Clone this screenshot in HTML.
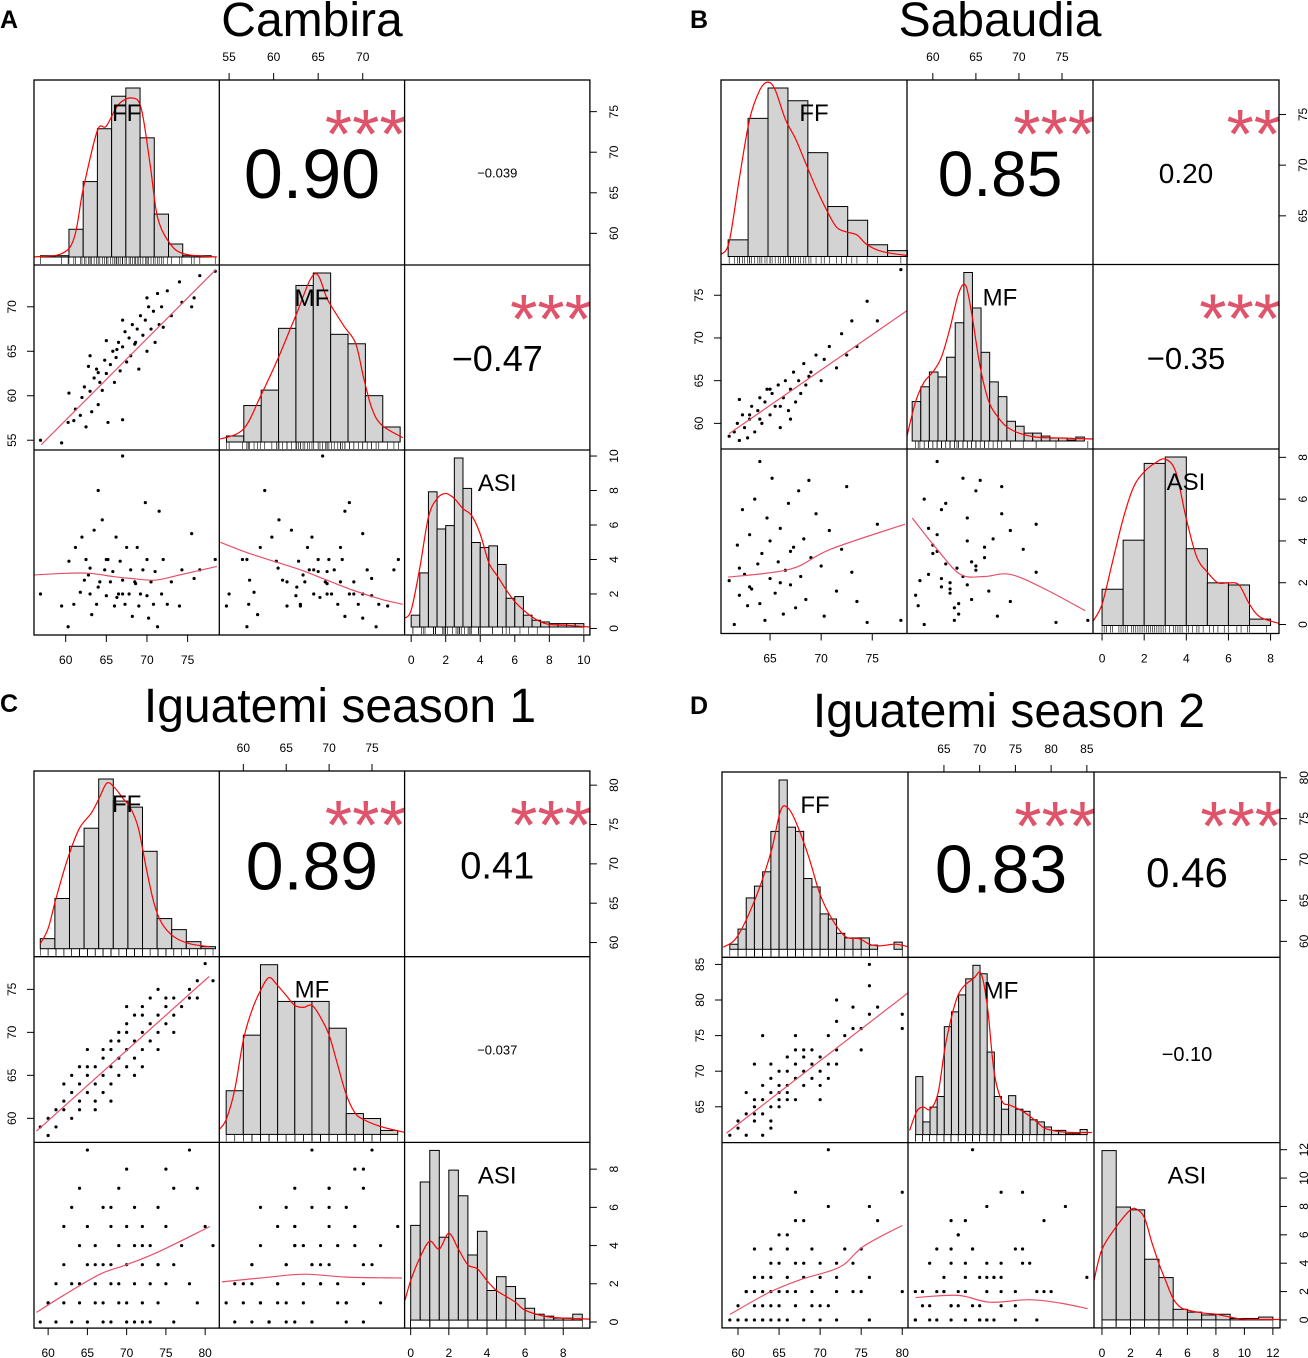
<!DOCTYPE html>
<html><head><meta charset="utf-8"><style>
html,body{margin:0;padding:0;background:#fff;}
svg{display:block;font-family:"Liberation Sans",Arial,sans-serif;}
</style></head><body>
<svg id="chart" width="1308" height="1358" viewBox="0 0 1308 1358" xmlns="http://www.w3.org/2000/svg"></svg>
<script>
// ===== Panel A data (Cambira) =====
const aObs = [[56.9,55,2],[59.5,54.7,1.3],[60.3,57,0.1],[60.4,60.3,3.9],[61,57.2,1.4],[61.2,58.5,4.7],[61.8,57.8,2.1],[62,59.8,5.3],[62.3,61,2.8],[62.5,56.5,4.0],[63,60.5,3.5],[63.2,58.2,0.8],[63.5,62,5.7],[63.8,63,1.4],[64,59,8.0],[64.2,61.5,2.7],[64.5,60.6,6.3],[64.8,64,3.4],[65,62.5,1.9],[65.2,57,4.0],[65.5,63.5,2.7],[65.8,65,3.3],[66,61.5,1.3],[66.2,64.3,5.3],[66.5,66,2.0],[66.7,62.8,3.9],[67,57.3,2.8],[67,65.5,10.0],[67.3,67.2,1.4],[67.5,63.8,4.7],[67.8,66.5,2.0],[68,64.5,3.4],[68.2,68,0.7],[68.5,65.8,2.7],[68.8,67.5,4.7],[69,63,1.3],[69.2,69,2.0],[69.5,66.8,3.4],[69.8,68.5,7.3],[70,65,4.0],[70.2,70,0.6],[70.5,67.5,2.7],[70.8,69.5,1.4],[71,66,3.3],[71.3,71.5,0.1],[71.5,68,6.8],[71.8,70,2.0],[72,67.7,4.0],[72.5,71.8,1.4],[73,69,2.7],[74,72.8,1.3],[74.3,70.5,3.4],[75.5,70,5.5],[75.8,71,2.9],[76.5,73.5,3.4],[78.4,74,4.0],[62.8,63.3,3.1],[64,62.6,2.4],[66.3,65.2,1.8],[68.6,66,2.6],[65,66.2,4.0],[70,71,1.9],[67,68.5,2.0],[63,64.5,2.0]];
const aFFCounts = [3,3,64,174,296,371,390,275,99,30,3,3];
const aFFDens = [[56.1,0],[60.5,22],[62.2,162],[63.9,292],[65.0,302],[66.5,352],[68.2,367],[69.3,342],[70.4,212],[71.3,92],[72.8,32],[74.6,7],[78.6,0]];
const aMFCounts = [14,85,121,265,365,394,251,229,108,35];
const aMFDens = [[54.0,7],[56.6,30],[58.6,110],[60.6,200],[62.4,290],[64.6,392],[66.1,330],[67.9,270],[69.2,230],[70.1,150],[71.0,80],[72.1,40],[74.5,10]];
const aASICounts = [0.7,3.2,8.0,5.8,6.0,10.0,8.2,5.0,4.7,4.8,3.7,1.7,1.8,0.7,0.4,0.3,0.2,0.2,0.2,0.2];
const aASIDens = [[-0.4,0.5],[0,1.0],[0.5,3.5],[1,6.5],[1.5,7.6],[2,7.9],[2.5,7.6],[3,7.0],[3.5,6.6],[4,5.5],[4.5,3.8],[5,3.0],[5.5,2.2],[6,1.5],[6.5,1.0],[7,0.6],[7.5,0.3],[8,0.15],[9,0.1],[10.3,0]];
const aLoessFFMF = [[57,54.5],[78.5,74.2]];
const aLoessFFASI = [[56.1,3.1],[60,3.2],[63,3.2],[66,3.0],[68,2.9],[71,2.8],[74,3.1],[78.6,3.6]];
const aLoessMFASI = [[54,5.0],[57,4.4],[60,3.9],[63,3.4],[66,2.8],[69,2.2],[72,1.7],[74.5,1.4]];
const aCorr = ["0.90","\u22120.039","\u22120.47"];

// ===== Panel B data (Sabaudia) =====
const bObs = [[61,58.5,2.1],[61.5,59,0],[61.8,60,3.8],[62,58,1.4],[62.3,61,5.5],[62.5,59.5,2.4],[62.8,58.3,0.9],[63,60.5,4.3],[63.2,62,1.7],[63.5,59,6.0],[63.8,61.5,2.9],[64,63,1.0],[64.2,60,3.4],[64.5,62.5,0.2],[64.7,64,5.1],[65,61,2.2],[65.2,63.5,7.0],[65.5,62,1.5],[65.8,64.5,3.0],[66,59.5,4.6],[66.3,63,0.5],[66.5,65,2.6],[66.8,61.5,5.8],[67,64,1.9],[67.3,66,3.7],[67.5,62.5,0.8],[67.8,65,6.4],[68,63.5,2.3],[68.3,67,4.1],[68.5,64.5,1.2],[69,66,3.2],[69.5,68,5.3],[70,65,2.8],[70.3,67.5,0.4],[70.8,69,4.5],[71.5,66.5,1.6],[72,70.5,3.6],[72.5,68,6.6],[73,72,2.5],[73.5,69,1.1],[74.5,74.3,0.1],[75.5,72,4.8],[77.8,78,0.2],[64,60.5,7.8],[66,62,2.0],[68.8,65.5,6.9],[63,61,1.8],[65,64,4.0],[67,60.5,3.5],[62,62.8,2.7]];
const bFFCounts = [17,141,172,159,106,51,37,12,6];
const bFFDens = [[60.2,2],[61,15],[62,80],[63,140],[64,170],[64.8,178],[65.5,170],[66.5,140],[67.5,120],[68.5,95],[69.5,70],[70.5,48],[71.5,30],[72.5,25],[73.5,22],[74.5,12],[76,5],[78.4,1]];
const bMFCounts = [40,55,70,65,85,120,171,135,90,60,45,20,15,8,8,5,3,3,1,4];
const bMFDens = [[57,5],[58,40],[59,60],[60,70],[61,85],[62,115],[63,150],[63.8,158],[64.5,130],[65.5,75],[66.5,40],[67.5,25],[68.5,15],[70,8],[72,4],[75,3],[78.6,2]];
const bASICounts = [1.7,4.0,7.6,7.9,3.6,2.0,1.9,0.3];
const bASIDens = [[-0.43,0.2],[0,1.0],[0.5,3],[1,5],[1.5,6.5],[2,7.2],[2.5,7.6],[3,7.8],[3.5,7.2],[4,5.0],[4.5,3.2],[5,2.5],[5.5,2.0],[6,2.0],[6.5,1.9],[7,1.0],[7.5,0.4],[8.4,0.1]];
const bLoessFFMF = [[61,58.8],[78.4,73.2]];
const bLoessFFASI = [[60.9,2.27],[67,2.65],[70.9,3.6],[78.2,4.8]];
const bLoessMFASI = [[57.6,5.1],[60.5,3.6],[63.2,2.4],[66,2.3],[69,2.4],[73,1.7],[77.7,0.66]];
const bCorr = ["0.85","0.20","\u22120.35"];

// ===== Panel C data (Iguatemi season 1) =====
const cObs = [[59,59,0],[60,60,1],[61,59,2],[61,61,0],[62,61,3],[62,62,1],[63,60,2],[63,63,0],[64,62,4],[64,64,1],[64,61,2],[65,63,0],[65,65,3],[65,66,5],[66,62,1],[66,64,2],[66,66,4],[67,63,0],[67,65,3],[67,67,1],[67,68,6],[68,64,2],[68,66,5],[68,68,0],[68,69,3],[69,65,1],[69,67,4],[69,69,2],[69,70,7],[70,66,0],[70,68,3],[70,70,5],[70,71,1],[71,67,2],[71,69,4],[71,72,6],[72,68,0],[72,70,3],[72,72,1],[72,73,5],[73,69,2],[73,71,4],[73,74,0],[74,70,6],[74,72,1],[74,75,3],[75,71,2],[75,73,5],[75,74,8],[76,72,0],[76,74,3],[77,73,4],[78,75,9],[78,74,2],[79,76,1],[80,78,5],[81,76,4],[79,74,7],[63,65,6],[65,68,9],[66,61,3],[70,73,8],[72,66,4],[76,70,7],[60,58,1],[62,64,5],[68,62,6],[74,68,3],[64,66,7],[71,65,0]];
const cFFCounts = [10,50,102,120,169,147,141,97,30,19,7,2];
const cFFDens = [[59,5],[60,20],[61,50],[62.5,90],[64,120],[65.5,135],[66.5,150],[67.5,165],[68.5,160],[69.5,150],[70.5,140],[71.5,120],[72.5,80],[73.5,45],[74.5,25],[76,12],[78,5],[80.5,2]];
const cMFCounts = [44,100,171,134,134,134,107,21,16,4];
const cMFDens = [[57.2,5],[58,15],[59,45],[60,95],[61,125],[62,145],[63,158],[64,150],[65,140],[66,130],[67,128],[68,130],[69,118],[70,100],[71,70],[72,40],[73,22],[74,15],[76,8],[78.8,2]];
const cASICounts = [4.8,7.0,8.6,4.2,7.6,6.3,3.3,4.5,1.5,2.2,1.7,1.1,0.6,0.3,0.2,0.1,0.1,0.3];
const cASIDens = [[-0.3,1],[0,2],[0.5,3.2],[1,4.0],[1.5,3.6],[2,4.4],[2.5,3.6],[3,2.8],[3.5,2.6],[4,2.0],[4.5,1.5],[5,1.2],[5.5,0.9],[6,0.5],[7,0.2],[8,0.1],[9.4,0.05]];
const cLoessFFMF = [[58.5,58.5],[80.5,76.5]];
const cLoessFFASI = [[58.5,0.5],[62,1.4],[66.6,2.5],[70,3.0],[74.2,3.7],[80.6,5.0]];
const cLoessMFASI = [[57.5,2.1],[62,2.3],[67,2.5],[72,2.35],[78.5,2.3]];
const cCorr = ["0.89","0.41","\u22120.037"];

// ===== Panel D data (Iguatemi season 2) =====
const dObs = [[59,61,0],[60,62,1],[60,63,0],[61,61,2],[61,64,0],[61,67,2],[62,63,1],[62,65,2],[62,66,0],[62,71,3],[63,61,0],[63,64,2],[63,66,1],[63,68,3],[63,75,0],[64,62,2],[64,65,3],[64,67,1],[64,69,5],[64,71,0],[65,65,2],[65,66,4],[65,68,0],[65,70,1],[66,66,5],[66,68,2],[66,70,3],[66,72,0],[67,66,7],[67,69,1],[67,71,4],[67,75,2],[68,68,7],[68,70,0],[68,72,3],[69,69,5],[69,71,2],[69,73,1],[70,68,4],[70,70,0],[70,72,3],[71,69,12],[71,71,8],[71,75,1],[72,71,0],[72,73,3],[72,77,4],[72,80,2],[73,75,5],[74,76,4],[74,79,2],[75,73,2],[75,76,5],[76,78,0],[76,82,8],[76,85,3],[77,79,7],[80,76,9],[80,78,2],[67,73,9],[65,67,6],[68,73,4],[62,64,5],[70,66,1],[66,67,6],[64,63,4]];
const dFFCounts = [12,48,122,150,184,280,402,290,280,168,148,84,72,38,27,27,27,10,0,0,17];
const dFFDens = [[58.2,5],[59.9,30],[62.1,120],[64.0,230],[65.2,330],[66.1,335],[67.1,300],[68.6,220],[70.0,130],[71.5,70],[73.1,30],[74.8,25],[76.0,12],[77.2,8],[79.1,12],[80.6,7]];
const dMFCounts = [137,30,65,90,255,290,330,368,400,380,195,90,60,92,60,55,35,30,18,10,10,2,2,12];
const dMFDens = [[60.2,10],[61.2,55],[62.1,65],[63.1,60],[64.2,100],[65.3,220],[67.0,330],[69.2,370],[70.2,380],[71.1,300],[72.0,150],[73.1,80],[74.2,70],[75.5,60],[76.9,45],[78.0,30],[79.1,15],[80.8,8],[83.0,5],[85.7,5]];
const dASICounts = [12,8,7.8,4.3,3.0,0.75,0.55,0.35,0.4,0.1,0.1,0.2];
const dASIDens = [[-0.56,2.8],[0,5],[1,6.6],[2,7.8],[2.5,7.8],[3,7.2],[3.5,5.5],[4,4.0],[4.5,2.7],[5,1.5],[5.5,0.9],[6,0.7],[7,0.5],[8,0.4],[9,0.2],[10,0.05],[12.5,0.03]];
const dLoessFFMF = [[58.6,61.3],[80.7,81]];
const dLoessFFASI = [[59.0,0.39],[63.8,1.94],[67.6,2.84],[72.4,3.73],[75.3,5.2],[80,6.66]];
const dLoessMFASI = [[61.05,1.58],[67.0,1.73],[71.4,1.25],[76.9,1.43],[81.3,1.19],[85.1,0.8]];
const dCorr = ["0.83","0.46","\u22120.10"];

// ===== tick labels =====
const aTicksMF=[55,60,65,70], aTicksFF=[60,65,70,75], aTicksASI=[0,2,4,6,8,10];
const bTicksMF=[60,65,70,75], bTicksFF=[65,70,75], bTicksASI=[0,2,4,6,8];
const cTicksMF=[60,65,70,75], cTicksFF=[60,65,70,75,80], cTicksASI=[0,2,4,6,8];
const dTicksMF=[65,70,75,80,85], dTicksFF=[60,65,70,75,80], dTicksASI=[0,2,4,6,8,10,12];

const NS="http://www.w3.org/2000/svg";
const svg=document.getElementById('chart');
function mk(tag,attrs,parent){const e=document.createElementNS(NS,tag);for(const k in attrs)e.setAttribute(k,attrs[k]);(parent||svg).appendChild(e);return e;}
function smooth(pts){
 if(pts.length<3)return 'M'+pts.map(p=>p[0].toFixed(1)+','+p[1].toFixed(1)).join(' L');
 let d='M'+pts[0][0].toFixed(1)+','+pts[0][1].toFixed(1);
 for(let i=0;i<pts.length-1;i++){
  const p0=pts[i-1]||pts[i],p1=pts[i],p2=pts[i+1],p3=pts[i+2]||p2;
  const c1=[p1[0]+(p2[0]-p0[0])/6,p1[1]+(p2[1]-p0[1])/6];
  const c2=[p2[0]-(p3[0]-p1[0])/6,p2[1]-(p3[1]-p1[1])/6];
  d+=' C'+c1[0].toFixed(1)+','+c1[1].toFixed(1)+' '+c2[0].toFixed(1)+','+c2[1].toFixed(1)+' '+p2[0].toFixed(1)+','+p2[1].toFixed(1);
 }
 return d;
}

const panels=[
 {key:'a',title:'Cambira',letter:'A',lx:0,ly:28,tx:312,ty:36,x0:34,y0:80,cw:185.3,ch:185,
  dom:[[56.1,78.9],[53.9,74.7],[-0.38,10.35]],obs:aObs,
  hist:[{start:56.9,w:1.75,c:aFFCounts,d:aFFDens},{start:54.7,w:1.95,c:aMFCounts,d:aMFDens},{start:0,w:0.5,c:aASICounts,d:aASIDens}],
  loess:[aLoessFFMF,aLoessFFASI,aLoessMFASI],tk:[aTicksFF,aTicksMF,aTicksASI],corr:aCorr,
  cs:[70,13,36],stars:['***','','***'],cy:[173,173,358]},
 {key:'b',title:'Sabaudia',letter:'B',lx:690,ly:28,tx:1000,ty:36,x0:721,y0:80,cw:186,ch:184.5,
  dom:[[60.2,78.4],[57.0,78.6],[-0.43,8.4]],obs:bObs,
  hist:[{start:60.9,w:1.95,c:bFFCounts,d:bFFDens},{start:57.6,w:1,c:bMFCounts,d:bMFDens},{start:0,w:1,c:bASICounts,d:bASIDens}],
  loess:[bLoessFFMF,bLoessFFASI,bLoessMFASI],tk:[bTicksFF,bTicksMF,bTicksASI],corr:bCorr,
  cs:[64,28,31],stars:['***','**','***'],cy:[173,173,358]},
 {key:'c',title:'Iguatemi season 1',letter:'C',lx:0,ly:712,tx:340,ty:722,x0:34,y0:771,cw:185.3,ch:185.7,
  dom:[[58.2,81.8],[57.2,78.8],[-0.32,9.4]],obs:cObs,
  hist:[{start:59.0,w:1.86,c:cFFCounts,d:cFFDens},{start:58.0,w:2,c:cMFCounts,d:cMFDens},{start:0,w:0.5,c:cASICounts,d:cASIDens}],
  loess:[cLoessFFMF,cLoessFFASI,cLoessMFASI],tk:[cTicksFF,cTicksMF,cTicksASI],corr:cCorr,
  cs:[68,38,13],stars:['***','***',''],cy:[865,865,1050]},
 {key:'d',title:'Iguatemi season 2',letter:'D',lx:690,ly:714,tx:1009,ty:727,x0:722,y0:772,cw:186,ch:185.3,
  dom:[[58.05,80.7],[59.97,86],[-0.56,12.5]],obs:dObs,
  hist:[{start:59.0,w:1,c:dFFCounts,d:dFFDens},{start:61.05,w:1,c:dMFCounts,d:dMFDens},{start:0,w:1,c:dASICounts,d:dASIDens}],
  loess:[dLoessFFMF,dLoessFFASI,dLoessMFASI],tk:[dTicksFF,dTicksMF,dTicksASI],corr:dCorr,
  cs:[68,42,20],stars:['***','***',''],cy:[868,872,1054]}
];
const varNames=['FF','MF','ASI'];

panels.forEach(p=>{
 const g=mk('g',{});
 
 
 const sx=(v,col)=>{const d=p.dom[v];return x=>p.x0+col*p.cw+(x-d[0])/(d[1]-d[0])*p.cw;};
 const sy=(v,row)=>{const d=p.dom[v];return y=>p.y0+(row+1)*p.ch-(y-d[0])/(d[1]-d[0])*p.ch;};
 const W=p.cw*3,H=p.ch*3,R=p.x0+W,B=p.y0+H;
 let t=mk('text',{x:p.tx,y:p.ty,'font-size':48,'text-anchor':'middle',fill:'#000'},g);t.textContent=p.title;
 
 
 t=mk('text',{x:p.lx,y:p.ly,'font-size':25,'font-weight':'bold',fill:'#000'},g);t.textContent=p.letter;
 
 
 p.hist.forEach((h,k)=>{
  const X=sx(k,k),base=p.y0+(k+1)*p.ch-8,mx=Math.max(...h.c),hs=(p.ch-16)/mx;
  const hg=mk('g',{},g);
  
  
  h.c.forEach((c,i)=>{
   const x1=X(h.start+i*h.w),x2=X(h.start+(i+1)*h.w);
   const r=mk('rect',{x:x1,y:base-c*hs,width:x2-x1,height:c*hs,fill:'#D3D3D3',stroke:'#000','stroke-width':1},hg);
   
   
  });
  p.obs.forEach(o=>{const x=X(o[k]);const l=mk('line',{x1:x,x2:x,y1:base,y2:base+7,stroke:'#000','stroke-width':0.6},hg);
   
   });
  const dp=smooth(h.d.map(q=>[X(q[0]),base-q[1]*hs]));
  const pl=mk('path',{d:dp,fill:'none',stroke:'#FF0000','stroke-width':1.2},hg);
  
  
  const lab=mk('text',{x:p.x0+k*p.cw+p.cw/2,y:p.y0+k*p.ch+41,'font-size':24,'text-anchor':'middle',fill:'#000'},hg);
  lab.textContent=varNames[k];
  
  
 });
 [[1,0,0,1,0],[2,0,0,2,1],[2,1,1,2,2]].forEach(s=>{
  const X=sx(s[2],s[1]),Y=sy(s[3],s[0]);
  const sg=mk('g',{},g);
  
  
  p.obs.forEach(o=>{const c=mk('circle',{cx:X(o[s[2]]),cy:Y(o[s[3]]),r:1.6,fill:'#000'},sg);
   
   });
  const lp=smooth(p.loess[s[4]].map(q=>[X(q[0]),Y(q[1])]));
  const pl=mk('path',{d:lp,fill:'none',stroke:'#E8506A','stroke-width':1.2},sg);
  
  
 });
 [[0,1],[0,2],[1,2]].forEach((rc,i)=>{
  const cx=p.x0+rc[1]*p.cw+p.cw/2,fs=p.cs[i];
  const tt=mk('text',{x:cx,y:p.cy[i]+0.36*fs,'font-size':fs,'text-anchor':'middle',fill:'#000'},g);
  tt.textContent=p.corr[i];
  
  
  if(p.stars[i]){
   const st=mk('text',{x:p.x0+(rc[1]+1)*p.cw+2,y:p.y0+rc[0]*p.ch+78,'font-size':70,'text-anchor':'end',fill:'#DF536B'},g);
   st.textContent=p.stars[i];
   
   
  }
 });
 const fr=mk('rect',{x:p.x0,y:p.y0,width:W,height:H,fill:'none',stroke:'#000','stroke-width':1.3},g);
 
 
 for(let i=1;i<3;i++){
  mk('line',{x1:p.x0+i*p.cw,x2:p.x0+i*p.cw,y1:p.y0,y2:B,stroke:'#000','stroke-width':1.3},g);
  mk('line',{x1:p.x0,x2:R,y1:p.y0+i*p.ch,y2:p.y0+i*p.ch,stroke:'#000','stroke-width':1.3},g);
 }
 const ag=mk('g',{'font-size':12,fill:'#000'},g);
 
 
 function hAxis(vals,X,y,dir){vals.forEach(v=>{const x=X(v);mk('line',{x1:x,x2:x,y1:y,y2:y+dir*7,stroke:'#000'},ag);
  const tx=mk('text',{x:x,y:dir<0?y-19:y+29,'text-anchor':'middle'},ag);tx.textContent=v;});}
 function vAxis(vals,Y,x,dir){vals.forEach(v=>{const y=Y(v);mk('line',{x1:x,x2:x+dir*7,y1:y,y2:y,stroke:'#000'},ag);
  const lx=dir>0?x+28:x-18;const tx=mk('text',{x:lx,y:y,'text-anchor':'middle',transform:'rotate(-90 '+lx+' '+y+')'},ag);tx.textContent=v;});}
 hAxis(p.tk[1],sx(1,1),p.y0,-1);
 hAxis(p.tk[0],sx(0,0),B,1);
 hAxis(p.tk[2],sx(2,2),B,1);
 vAxis(p.tk[0],sy(0,0),R,1);
 vAxis(p.tk[2],sy(2,2),R,1);
 vAxis(p.tk[1],sy(1,1),p.x0,-1);
});
</script>
</body></html>
